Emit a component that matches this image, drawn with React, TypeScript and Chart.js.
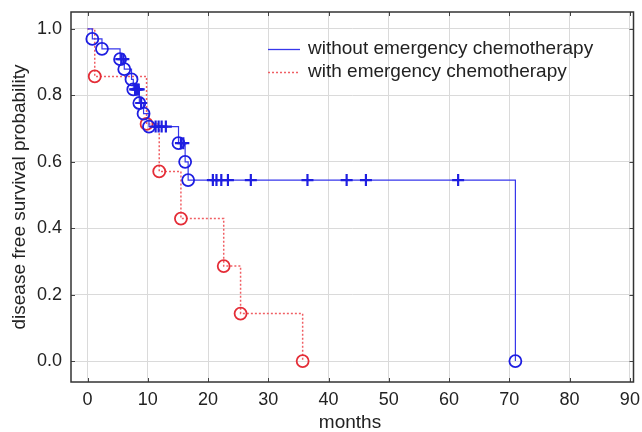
import React, { useEffect, useRef } from "react";
import { Chart, registerables } from "chart.js";
Chart.register(...registerables);

// ---- data ----
const xTickValues = [0, 10, 20, 30, 40, 50, 60, 70, 80, 90];
const yTickValues = [0, 0.2, 0.4, 0.6, 0.8, 1.0];

const blueEventMonths = [0.8, 2.4, 5.4, 6.1, 7.3, 7.6, 8.6, 9.3, 10.2, 15.1, 16.2, 16.7, 71.0];
const blueEventSurvival = [0.97, 0.94, 0.909, 0.879, 0.848, 0.818, 0.777, 0.745, 0.706, 0.656, 0.6, 0.545, 0.0];
const blueCensorMonths = [5.6, 5.95, 7.9, 8.1, 8.3, 8.5, 8.9, 11.3, 11.8, 12.3, 13.0, 15.5, 15.9, 20.8, 21.4, 22.2, 23.3, 27.1, 36.5, 43.0, 46.2, 61.5];
const blueCensorSurvival = [0.909, 0.909, 0.818, 0.818, 0.818, 0.818, 0.777, 0.706, 0.706, 0.706, 0.706, 0.656, 0.656, 0.545, 0.545, 0.545, 0.545, 0.545, 0.545, 0.545, 0.545, 0.545];

const redEventMonths = [1.2, 9.8, 11.9, 15.5, 22.6, 25.4, 35.7];
const redEventSurvival = [0.857, 0.714, 0.571, 0.429, 0.286, 0.143, 0.0];

const seriesLabels = ["without emergency chemotherapy", "with emergency chemotherapy"];
const xTitle = "months";
const yTitle = "disease free survival probability";

const BLUE = "rgb(30,30,225)";
const BLUE_LINE = "rgb(55,55,235)";
const RED = "rgb(228,45,55)";
const RED_LINE = "rgb(240,95,100)";
const FONT = "Liberation Sans, Arial, sans-serif";

const toPts = (xs: number[], ys: number[]) => xs.map((x, i) => ({ x, y: ys[i] }));

const zeroPad = (s: any) => {
  s.paddingTop = 0;
  s.paddingBottom = 0;
  s.paddingLeft = 0;
  s.paddingRight = 0;
};

const decor = {
  id: "decor",
  afterDraw(chart: any) {
    const { ctx, chartArea: a, scales } = chart;
    const xs = scales.x;
    const ys = scales.y;
    ctx.save();
    // inner tick marks
    ctx.strokeStyle = "#444";
    ctx.lineWidth = 1;
    const tl = 4;
    ctx.beginPath();
    xTickValues.forEach((v) => {
      const px = Math.round(xs.getPixelForValue(v)) + 0.5;
      ctx.moveTo(px, a.bottom);
      ctx.lineTo(px, a.bottom - tl);
      ctx.moveTo(px, a.top);
      ctx.lineTo(px, a.top + tl);
    });
    yTickValues.forEach((v) => {
      const py = Math.round(ys.getPixelForValue(v)) + 0.5;
      ctx.moveTo(a.left, py);
      ctx.lineTo(a.left + tl, py);
      ctx.moveTo(a.right, py);
      ctx.lineTo(a.right - tl, py);
    });
    ctx.stroke();
    // frame
    ctx.strokeStyle = "#333";
    ctx.lineWidth = 1.5;
    ctx.strokeRect(a.left, a.top, a.right - a.left, a.bottom - a.top);

    // legend
    ctx.font = `19px ${FONT}`;
    ctx.textBaseline = "middle";
    ctx.textAlign = "left";
    ctx.fillStyle = "#222";
    ctx.strokeStyle = BLUE_LINE;
    ctx.lineWidth = 1.3;
    ctx.setLineDash([]);
    ctx.beginPath();
    ctx.moveTo(268, 49.5);
    ctx.lineTo(300, 49.5);
    ctx.stroke();
    ctx.fillText(seriesLabels[0], 308, 49);
    ctx.strokeStyle = RED_LINE;
    ctx.lineWidth = 1.5;
    ctx.setLineDash([2, 2]);
    ctx.beginPath();
    ctx.moveTo(268, 72.5);
    ctx.lineTo(300, 72.5);
    ctx.stroke();
    ctx.setLineDash([]);
    ctx.fillText(seriesLabels[1], 308, 72);

    // axis titles
    ctx.textAlign = "center";
    ctx.fillText(xTitle, 350, 423);
    ctx.translate(20, 197);
    ctx.rotate(-Math.PI / 2);
    ctx.fillText(yTitle, 0, 0);
    ctx.restore();
  },
};

export default function App() {
  const ref = useRef<HTMLCanvasElement | null>(null);
  useEffect(() => {
    if (!ref.current) return;
    const chart = new Chart(ref.current, {
      type: "scatter",
      data: {
        datasets: [
          {
            type: "scatter",
            data: toPts(blueCensorMonths, blueCensorSurvival),
            pointStyle: "cross",
            pointRadius: 6,
            borderColor: BLUE,
            borderWidth: 2.2,
            showLine: false,
          } as any,
          {
            type: "scatter",
            data: toPts(blueEventMonths, blueEventSurvival),
            pointStyle: "circle",
            pointRadius: 6,
            borderColor: BLUE,
            backgroundColor: "rgba(0,0,0,0)",
            borderWidth: 1.8,
            showLine: false,
          } as any,
          {
            type: "scatter",
            data: toPts(redEventMonths, redEventSurvival),
            pointStyle: "circle",
            pointRadius: 6,
            borderColor: RED,
            backgroundColor: "rgba(0,0,0,0)",
            borderWidth: 1.8,
            showLine: false,
          } as any,
          {
            type: "line",
            data: [{ x: 0, y: 1 }, ...toPts(blueEventMonths, blueEventSurvival)],
            stepped: true,
            borderColor: BLUE_LINE,
            borderWidth: 1.2,
            pointRadius: 0,
            fill: false,
          } as any,
          {
            type: "line",
            data: [{ x: 0, y: 1 }, ...toPts(redEventMonths, redEventSurvival)],
            stepped: true,
            borderColor: RED_LINE,
            borderWidth: 1.5,
            borderDash: [2, 2],
            pointRadius: 0,
            fill: false,
          } as any,
        ],
      },
      options: {
        animation: false,
        responsive: false,
        devicePixelRatio: 1,
        layout: { padding: { top: 12, right: 8.5, left: 0, bottom: 0 } },
        plugins: { legend: { display: false }, tooltip: { enabled: false } },
        scales: {
          x: {
            type: "linear",
            min: -2.74,
            max: 90.6,
            afterBuildTicks: (s: any) => {
              s.ticks = xTickValues.map((v) => ({ value: v }));
            },
            afterFit: (s: any) => {
              s.height = 50;
              zeroPad(s);
            },
            grid: { color: "#dadada", lineWidth: 1, drawTicks: false },
            border: { display: false },
            ticks: {
              padding: 7,
              color: "#222",
              font: { family: FONT, size: 18 },
              maxRotation: 0,
              callback: (v: any) => String(v),
            },
          },
          y: {
            type: "linear",
            min: -0.063,
            max: 1.051,
            afterBuildTicks: (s: any) => {
              s.ticks = yTickValues.map((v) => ({ value: v }));
            },
            afterFit: (s: any) => {
              s.width = 71;
              zeroPad(s);
            },
            grid: { color: "#dadada", lineWidth: 1, drawTicks: false },
            border: { display: false },
            ticks: {
              padding: 9,
              color: "#222",
              font: { family: FONT, size: 18 },
              callback: (v: any) => Number(v).toFixed(1),
            },
          },
        },
      },
      plugins: [decor],
    });
    return () => chart.destroy();
  }, []);
  return (
    <div style={{ position: "absolute", left: 0, top: 0, width: 642, height: 432, background: "#fff" }}>
      <canvas ref={ref} width={642} height={432} />
    </div>
  );
}
